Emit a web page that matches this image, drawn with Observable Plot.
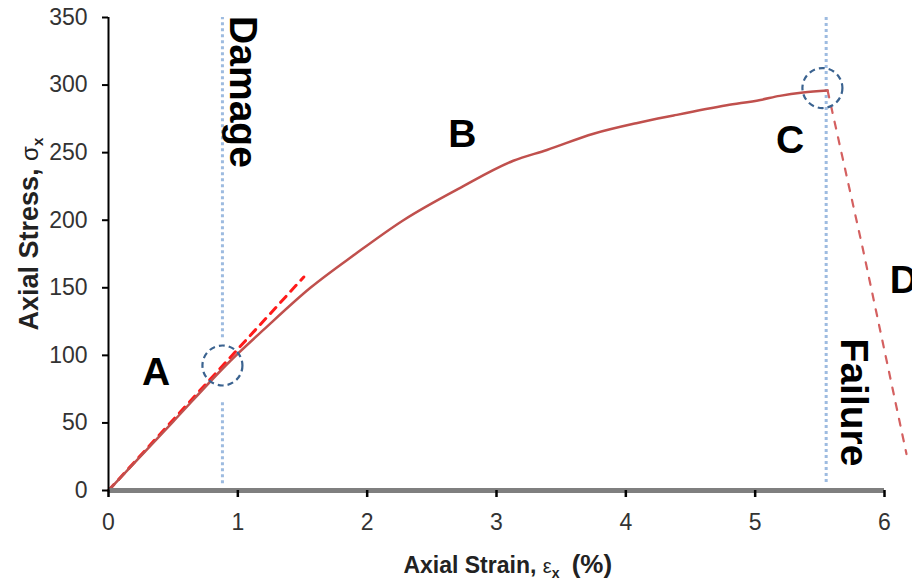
<!DOCTYPE html>
<html>
<head>
<meta charset="utf-8">
<script src="https://cdn.jsdelivr.net/npm/d3@7"></script>
<script src="https://cdn.jsdelivr.net/npm/@observablehq/plot@0.6"></script>
<style>
  html, body { margin: 0; padding: 0; background: #fff; }
  #chart svg { display: block; overflow: visible; }
</style>
</head>
<body>
<div id="chart"></div>
<script>
// Tick labels
const xTicks = [0, 1, 2, 3, 4, 5, 6];
const yTicks = [0, 50, 100, 150, 200, 250, 300, 350];

// Main stress-strain curve (strain %, stress)
const strain = [0, 0.5, 0.943, 1.2, 1.561, 1.909, 2.28, 2.72, 3.13, 3.39, 3.75, 4.09, 4.37, 4.78, 5.04, 5.19, 5.37, 5.56];
const stress = [0, 51, 96, 119, 150, 175, 200, 224, 244, 252, 264, 272, 277.5, 285, 289, 292, 294.5, 296];

// Linear-elastic extension (dashed)
const linStrain = [0, 1.51];
const linStress = [0, 158];

// Post-peak drop (dashed)
const postStrain = [5.56, 5.83, 6.17];
const postStress = [296, 180, 27];

// Circled points
const markStrain = [0.881, 5.52];
const markStress = [92.5, 297.8];

// Vertical guides
const guideName = ["Damage", "Damage", "Failure"];
const guideX = [0.881, 0.881, 5.549];
const guideY1 = [113, 5, 6];
const guideY2 = [350, 67, 350];

// Phase labels
const letters = ["A", "B", "C", "D"];
const letterX = [0.367, 2.736, 5.27, 6.15];
const letterY = [87.3, 263.4, 259, 155.4];

const phaseText = ["Damage", "Failure"];
const phaseX = [1.039, 5.761];
const phaseY = [294.9, 65.1];

const xTitle = "Axial Strain, ";
const yTitle = "Axial Stress, ";

const curve = strain.map((x, i) => ({x, y: stress[i]}));
const lin = linStrain.map((x, i) => ({x, y: linStress[i]}));
const post = postStrain.map((x, i) => ({x, y: postStress[i]}));
const marks = markStrain.map((x, i) => ({x, y: markStress[i]}));
const guides = guideX.map((x, i) => ({name: guideName[i], x, y1: guideY1[i], y2: guideY2[i]}));
const letterData = letters.map((t, i) => ({t, x: letterX[i], y: letterY[i]}));
const phaseData = phaseText.map((t, i) => ({t, x: phaseX[i], y: phaseY[i]}));

const FONT = "'Liberation Sans', Arial, sans-serif";

const plot = Plot.plot({
  width: 912,
  height: 583,
  marginLeft: 108,
  marginRight: 28,
  marginTop: 17,
  marginBottom: 93,
  style: {fontFamily: FONT, background: "#fff", color: "#333", overflow: "visible"},
  x: {domain: [0, 6]},
  y: {domain: [0, 350]},
  marks: [
    Plot.ruleX(guides, {x: "x", y1: "y1", y2: "y2", stroke: "#9dbbe0", strokeWidth: 3, strokeDasharray: "3,3"}),
    Plot.line(lin, {x: "x", y: "y", stroke: "#ff1a1a", strokeWidth: 3, strokeDasharray: "8,7"}),
    Plot.line(curve, {x: "x", y: "y", stroke: "#c0504d", strokeWidth: 2.5, curve: "monotone-x"}),
    Plot.line(post, {x: "x", y: "y", stroke: "#d46060", strokeWidth: 2.2, strokeDasharray: "7,9"}),
    Plot.dot(marks, {x: "x", y: "y", r: 20, stroke: "#3b6390", strokeWidth: 2.2, strokeDasharray: "6,4", fill: "none"}),
    Plot.ruleY([0], {stroke: "#7f7f7f", strokeWidth: 5}),
    Plot.ruleX([0], {stroke: "#000", strokeWidth: 2}),
    Plot.axisY({ticks: yTicks, tickSize: 6, tickPadding: 15, fontSize: 23, label: null, stroke: "#000", strokeWidth: 2, fill: "#333", tickFormat: d => String(d)}),
    Plot.axisX({ticks: xTicks, tickSize: 7, tickPadding: 16, fontSize: 23, label: null, stroke: "#000", strokeWidth: 2.5, fill: "#333", tickFormat: d => String(d)}),
    Plot.text(letterData, {x: "x", y: "y", text: "t", fontSize: 39, fontWeight: "bold", fill: "#000", lineAnchor: "middle", textAnchor: "middle"}),
    Plot.text(phaseData, {x: "x", y: "y", text: "t", rotate: 90, fontSize: 39, fontWeight: "bold", fill: "#000", lineAnchor: "middle", textAnchor: "middle"}),
    Plot.text([xTitle], {x: 2.28, frameAnchor: "bottom", dy: 75, textAnchor: "start", lineAnchor: "middle", fontSize: 23, fontWeight: "bold", fill: "#222"}),
    Plot.text([yTitle], {y: 118.4, frameAnchor: "left", dx: -79, rotate: -90, textAnchor: "start", lineAnchor: "middle", fontSize: 27, fontWeight: "bold", fill: "#222"})
  ]
});

document.getElementById("chart").appendChild(plot);

// Add Greek symbols with subscripts to the axis titles
const svg = d3.select(plot);
function findText(s) {
  return svg.selectAll("text").filter(function () { return this.textContent === s; });
}
const xt = findText(xTitle);
xt.text(null);
xt.append("tspan").text("Axial Strain, ");
xt.append("tspan").attr("font-weight", "normal").attr("font-size", 20).text("ε");
xt.append("tspan").attr("font-size", 14).attr("dy", 5).text("x");
xt.append("tspan").attr("dy", -5).attr("dx", 5).attr("font-size", 26).text(" (%)");

const yt = findText(yTitle);
yt.text(null);
yt.append("tspan").text("Axial Stress, ");
yt.append("tspan").attr("font-weight", "normal").attr("font-size", 24).text("σ");
yt.append("tspan").attr("font-size", 15).attr("dy", 5).text("x");
</script>
</body>
</html>
